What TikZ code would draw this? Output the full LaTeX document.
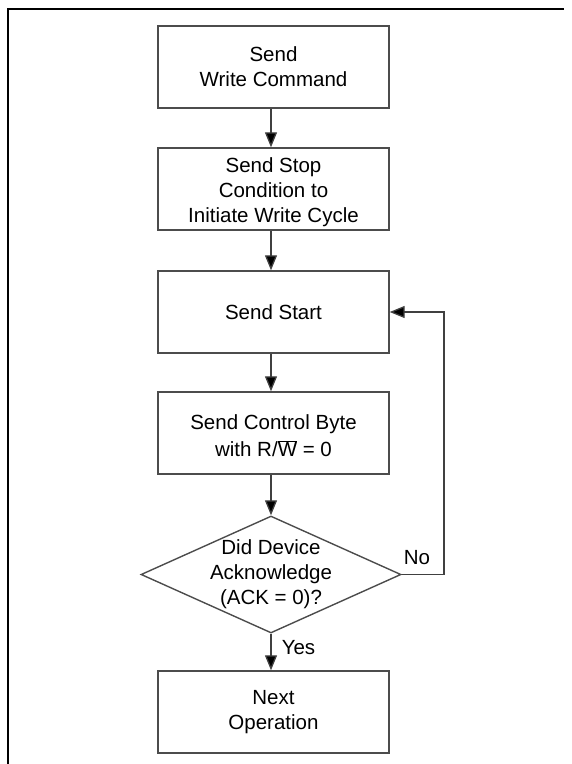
\documentclass[tikz,border=0pt]{standalone}
\usepackage{fontspec}
\setmainfont{Liberation Sans}
\usetikzlibrary{arrows.meta,shapes.geometric}
\newcommand{\barW}{$\overline{\hbox{W}}$}
\begin{document}
\begin{tikzpicture}[x=1pt,y=-1pt,
  txt/.style={font=\fontsize{20.5}{25}\selectfont,align=center,inner sep=0pt},
  stepbox/.style={txt,draw=black!70,line width=1.4pt,minimum width=231pt,minimum height=82pt},
  decision/.style={draw=black!70,line width=1.4pt,shape=diamond,minimum width=260pt,minimum height=117pt,inner sep=0pt},
  conn/.style={draw=black!75,line width=1.3pt,-{Triangle[length=15pt,width=12pt,fill=black]}},
  frameline/.style={draw=black,line width=2.3pt,line join=miter}
]
\useasboundingbox (0,0) rectangle (572,764);

% outer frame (left and top edges)
\draw[frameline] (8,764) -- (8,8.8) -- (564,8.8);

% process steps
\node[stepbox] (b1) at (273.5,67)  {Send\\Write Command};
\node[stepbox] (b2) at (273.5,189) {};
\node[txt] (b2text) at ([yshift=-3pt]b2.center) {Send Stop\\Condition to\\Initiate Write Cycle};
\node[stepbox] (b3) at (273.5,312) {Send Start};
\node[stepbox] (b4) at (273.5,433) {};
\node[txt,font=\fontsize{20.5}{27}\selectfont] (b4text) at ([yshift=-3pt]b4.center) {Send Control Byte\\with R/\barW\ = 0};
\node[decision] (dia) at (271,574.5) {};
\node[txt] (diatext) at (dia) {Did Device\\Acknowledge\\(ACK = 0)?};
\node[stepbox] (b5) at (273.5,712) {Next\\Operation};

% flow
\draw[conn] (b1.south -| dia.north) -- (b2.north -| dia.north);
\draw[conn] (b2.south -| dia.north) -- (b3.north -| dia.north);
\draw[conn] (b3.south -| dia.north) -- (b4.north -| dia.north);
\draw[conn] (b4.south -| dia.north) -- (dia.north);
\draw[conn] (dia.south) -- (b5.north -| dia.south);

% retry loop
\coordinate (fb) at (444,574.5);
\draw[conn] (dia.east) -- (fb) |- (b3.east);

% branch labels
\node[txt] (no) at (417,558) {No};
\node[txt] (yes) at (298.5,648) {Yes};
\end{tikzpicture}
\end{document}
